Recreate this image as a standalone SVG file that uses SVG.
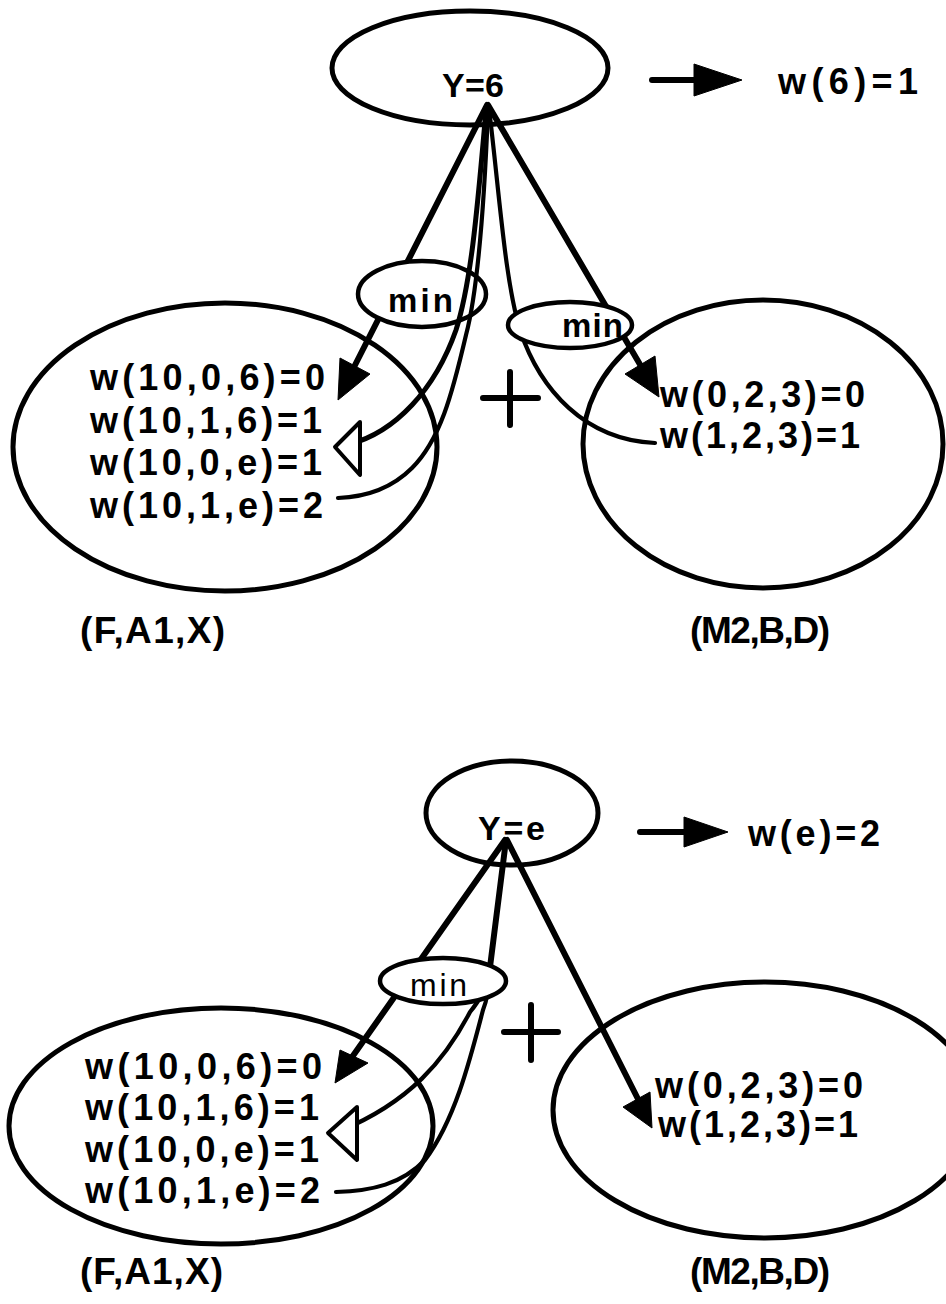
<svg xmlns="http://www.w3.org/2000/svg" width="946" height="1304" viewBox="0 0 946 1304">
  <style>
    .set { fill: none; stroke: #000; stroke-width: 5; }
    .op { fill: #fff; stroke: #000; stroke-width: 4.5; }
    .thick { fill: none; stroke: #000; stroke-width: 6; stroke-linecap: round; }
    .thin { fill: none; stroke: #000; stroke-width: 4.2; stroke-linecap: round; }
    .head { fill: #000; stroke: #000; stroke-width: 1; stroke-linejoin: round; }
    .hollow { fill: #fff; stroke: #000; stroke-width: 4; stroke-linejoin: round; }
    .lbl { font-family: "Liberation Sans", Arial, sans-serif; font-weight: bold; font-size: 36px; fill: #000; }
    .var { font-family: "Liberation Sans", Arial, sans-serif; font-weight: bold; font-size: 34px; fill: #000; }
    .tag { font-family: "Liberation Sans", Arial, sans-serif; font-weight: bold; font-size: 37px; fill: #000; }
    .opb { font-family: "Liberation Sans", Arial, sans-serif; font-weight: bold; font-size: 33px; fill: #000; }
    .opl { font-family: "Liberation Sans", Arial, sans-serif; font-size: 32px; fill: #000; }
  </style>

  <!-- ===== upper panel : Y = 6 ===== -->
  <g id="y6">
    <ellipse class="set" cx="470" cy="68" rx="138" ry="57"/>
    <text class="var" x="442" y="97" textLength="62" lengthAdjust="spacing">Y=6</text>
  </g>
  <g id="w6">
    <text class="lbl" x="778" y="94" textLength="140" lengthAdjust="spacing">w(6)=1</text>
  </g>
  <g id="set-fa1x-top">
    <ellipse class="set" cx="225" cy="447" rx="212" ry="144"/>
    <text class="lbl" x="90" y="390" textLength="235" lengthAdjust="spacing">w(10,0,6)=0</text>
    <text class="lbl" x="90" y="433" textLength="232" lengthAdjust="spacing">w(10,1,6)=1</text>
    <text class="lbl" x="90" y="475" textLength="232" lengthAdjust="spacing">w(10,0,e)=1</text>
    <text class="lbl" x="90" y="518" textLength="233" lengthAdjust="spacing">w(10,1,e)=2</text>
    <text class="tag" x="80" y="643" textLength="145" lengthAdjust="spacing">(F,A1,X)</text>
  </g>
  <g id="set-m2bd-top">
    <ellipse class="set" cx="763" cy="444" rx="180" ry="144"/>
    <text class="lbl" x="660" y="407" textLength="205" lengthAdjust="spacing">w(0,2,3)=0</text>
    <text class="lbl" x="660" y="448" textLength="200" lengthAdjust="spacing">w(1,2,3)=1</text>
    <text class="tag" x="690" y="643" textLength="140" lengthAdjust="spacing">(M2,B,D)</text>
  </g>
  <g id="plus-top">
    <path class="thick" d="M510,372 V425 M483,398 H538"/>
  </g>

  <g id="connectors-top">
    <!-- result arrow -->
    <path class="thick" d="M652,80 H700"/>
    <polygon class="head" points="694,64 742,80 694,96"/>
    <!-- right branch, passing under the right min -->
    <path class="thin" d="M489,108 C500,200 505,280 520,330 C540,390 585,440 655,443"/>
    <path class="thick" d="M488,105 L645,373"/>
    <polygon class="head" points="625,374 655,356 659,397"/>
    <!-- left chosen branch, passing under the left min -->
    <path class="thick" d="M487,105 L350,375"/>
    <polygon class="head" points="340,358 370,374 338,400"/>
  </g>
  <g id="min-left-top">
    <ellipse class="op" cx="422" cy="294" rx="64" ry="33"/>
    <text class="opb" x="388" y="312" textLength="65" lengthAdjust="spacing">min</text>
  </g>
  <g id="min-right-top">
    <ellipse class="op" cx="570" cy="325" rx="62" ry="23"/>
    <text class="opb" x="562" y="337" textLength="61" lengthAdjust="spacing">min</text>
  </g>
  <g id="connectors-top-over">
    <!-- alternatives for the left min, drawn across it -->
    <path class="thin" d="M486,110 C478,200 472,280 456,330 C435,390 395,432 350,444" style="stroke-width:5"/>
    <polygon class="hollow" points="360,422 335,447 360,475"/>
    <path class="thin" d="M488,110 C484,210 478,290 466,335 C452,395 440,440 412,468 C392,488 365,497 338,498"/>
  </g>

  <!-- ===== lower panel : Y = e ===== -->
  <g id="ye">
    <ellipse class="set" cx="512" cy="813" rx="86" ry="52"/>
    <text class="var" x="478" y="840" textLength="67" lengthAdjust="spacing">Y=e</text>
  </g>
  <g id="we">
    <text class="lbl" x="748" y="846" textLength="132" lengthAdjust="spacing">w(e)=2</text>
  </g>
  <g id="set-fa1x-bottom">
    <ellipse class="set" cx="221" cy="1126" rx="212" ry="118"/>
    <text class="lbl" x="85" y="1079" textLength="237" lengthAdjust="spacing">w(10,0,6)=0</text>
    <text class="lbl" x="85" y="1120" textLength="234" lengthAdjust="spacing">w(10,1,6)=1</text>
    <text class="lbl" x="85" y="1162" textLength="234" lengthAdjust="spacing">w(10,0,e)=1</text>
    <text class="lbl" x="85" y="1203" textLength="235" lengthAdjust="spacing">w(10,1,e)=2</text>
    <text class="tag" x="80" y="1284" textLength="143" lengthAdjust="spacing">(F,A1,X)</text>
  </g>
  <g id="set-m2bd-bottom">
    <ellipse class="set" cx="765" cy="1110" rx="212" ry="128"/>
    <text class="lbl" x="655" y="1098" textLength="208" lengthAdjust="spacing">w(0,2,3)=0</text>
    <text class="lbl" x="658" y="1137" textLength="200" lengthAdjust="spacing">w(1,2,3)=1</text>
    <text class="tag" x="690" y="1284" textLength="140" lengthAdjust="spacing">(M2,B,D)</text>
  </g>
  <g id="plus-bottom">
    <path class="thick" d="M531,1005 V1060 M504,1032 H558"/>
  </g>

  <g id="connectors-bottom">
    <path class="thick" d="M640,832 H690"/>
    <polygon class="head" points="684,817 728,832 684,847"/>
    <!-- left chosen branch -->
    <path class="thick" d="M505,840 L350,1060"/>
    <polygon class="head" points="340,1050 368,1063 335,1083"/>
    <!-- alternatives, split below the min -->
    <path class="thick" d="M506,840 L489,975"/>
    <path class="thin" d="M489,972 C485,990 480,1000 470,1012 C445,1060 410,1102 340,1131"/>
    <path class="thin" d="M490,972 C489,990 487,1000 483,1010 C470,1060 455,1120 425,1160 C402,1184 372,1191 336,1192"/>
    <polygon class="hollow" points="357,1107 328,1133 357,1160"/>
    <!-- right branch -->
    <path class="thick" d="M507,840 L640,1103"/>
    <polygon class="head" points="623,1107 650,1092 652,1128"/>
  </g>
  <g id="min-bottom">
    <ellipse class="op" cx="443" cy="981" rx="63" ry="23"/>
    <text class="opl" x="410" y="996" textLength="57" lengthAdjust="spacing">min</text>
  </g>
</svg>
